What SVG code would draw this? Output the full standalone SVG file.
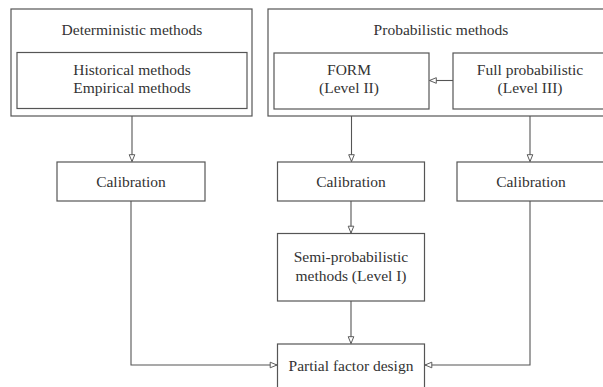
<svg xmlns="http://www.w3.org/2000/svg" width="603" height="387" viewBox="0 0 603 387">
<defs>
<style>
.box{fill:#fff;stroke:#555;stroke-width:1.2}
.lbl{font-family:"Liberation Serif","Times New Roman",serif;font-size:15.5px;fill:#333;text-anchor:middle}
.ln{fill:none;stroke:#555;stroke-width:1.1}
</style>
<marker id="arr" viewBox="0 0 10 10" refX="9.5" refY="5" markerWidth="8" markerHeight="8" orient="auto" markerUnits="userSpaceOnUse">
<path d="M1,1.5 L9.5,5 L1,8.5 Z" fill="#fff" stroke="#555" stroke-width="1.2"/>
</marker>
</defs>
<rect width="603" height="387" fill="#fff"/>
<g id="deterministic">
<rect class="box" x="11" y="9" width="241" height="107"/>
<text class="lbl" x="132" y="35">Deterministic methods</text>
</g>
<g id="historical">
<rect class="box" x="17" y="52.5" width="230" height="56"/>
<text class="lbl" x="132" y="75">Historical methods</text>
<text class="lbl" x="132" y="93">Empirical methods</text>
</g>
<g id="probabilistic">
<rect class="box" x="268" y="9" width="350" height="107"/>
<text class="lbl" x="441" y="35">Probabilistic methods</text>
</g>
<g id="form">
<rect class="box" x="274" y="53" width="155" height="56"/>
<text class="lbl" x="349" y="75">FORM</text>
<text class="lbl" x="349" y="93">(Level II)</text>
</g>
<g id="full">
<rect class="box" x="453" y="53" width="160" height="56"/>
<text class="lbl" x="530" y="75">Full probabilistic</text>
<text class="lbl" x="530" y="93">(Level III)</text>
</g>
<g id="cal1">
<rect class="box" x="57" y="162" width="148" height="39"/>
<text class="lbl" x="131" y="186.5">Calibration</text>
</g>
<g id="cal2">
<rect class="box" x="277.5" y="162" width="147" height="39"/>
<text class="lbl" x="351" y="187">Calibration</text>
</g>
<g id="cal3">
<rect class="box" x="457" y="162" width="150" height="39"/>
<text class="lbl" x="531" y="186.5">Calibration</text>
</g>
<g id="semi">
<rect class="box" x="277.5" y="233.5" width="147" height="67.5"/>
<text class="lbl" x="351" y="262">Semi-probabilistic</text>
<text class="lbl" x="351" y="281">methods (Level I)</text>
</g>
<g id="partial">
<rect class="box" x="277.5" y="344" width="147" height="50"/>
<text class="lbl" x="351" y="371">Partial factor design</text>
</g>
<g id="connectors">
<path class="ln" d="M132,116 V161.5" marker-end="url(#arr)"/>
<path class="ln" d="M351.5,116 V161.5" marker-end="url(#arr)"/>
<path class="ln" d="M530,116 V161.5" marker-end="url(#arr)"/>
<path class="ln" d="M453,80.5 H429.5" marker-end="url(#arr)"/>
<path class="ln" d="M351,201 V233" marker-end="url(#arr)"/>
<path class="ln" d="M351,301 V343.5" marker-end="url(#arr)"/>
<path class="ln" d="M131,201 V365 H277" marker-end="url(#arr)"/>
<path class="ln" d="M530,201 V365 H425" marker-end="url(#arr)"/>
</g>
</svg>
